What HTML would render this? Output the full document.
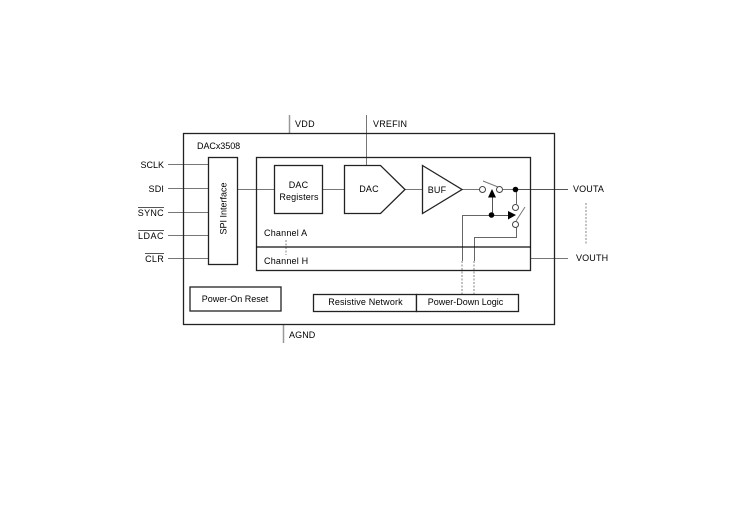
<!DOCTYPE html>
<html>
<head>
<meta charset="utf-8">
<style>
html,body{margin:0;padding:0;background:#fff;}
svg{display:block;}
text{font-family:"Liberation Sans",sans-serif;font-size:9px;fill:#000;letter-spacing:.15px;}
</style>
</head>
<body>
<svg width="736" height="505" viewBox="0 0 736 505" xmlns="http://www.w3.org/2000/svg">
<rect width="736" height="505" fill="#fff"/>
<!-- gray connectors -->
<g stroke="#777" stroke-width="1" fill="none">
<path d="M168 164.5H208M168 188.5H208M168 212.5H208M168 235.5H208M168 258.5H208"/>
<path d="M238 189.5H274M323 189.5H344M405 189.5H422M462 189.5H480M503 189.5H516"/>
<path d="M366.5 115V165"/>
<path d="M531 258.5H568"/>
<path d="M516 189.5H568" stroke="#555"/>
<path d="M516.5 190V204M516.5 227V237.5H474.5V261M462.5 261V215.5H492" stroke="#666"/>
<path d="M492.5 215V196" stroke="#555"/>
<path d="M492 215.5H508" stroke="#555"/>
<path d="M483 181L498 187M516 221L525 207" stroke="#777"/>
</g>
<path d="M289.5 115V133M283.5 324V343" stroke="#999" stroke-width="1.5" fill="none"/>
<!-- dashed -->
<g stroke="#999" stroke-width="1.2" stroke-dasharray="2 1.5" fill="none">
<path d="M462 261V294M474 261V294M286 240V255"/>
<path d="M586 203V245"/>
</g>
<!-- boxes -->
<g fill="none" stroke="#222" stroke-width="1.3">
<rect x="183.5" y="133.5" width="371" height="191"/>
<rect x="256.5" y="157.5" width="274" height="113"/>
<path d="M256 247H531" stroke="#111"/>
</g>
<g fill="#fff" stroke="#222" stroke-width="1.3">
<rect x="208.5" y="157.5" width="29" height="107"/>
<rect x="274.5" y="165.5" width="48" height="48"/>
<polygon points="344.5,165.5 380.5,165.5 405,189.5 380.5,213.5 344.5,213.5"/>
<polygon points="422.5,165.5 462,189.5 422.5,213.5"/>
<rect x="190" y="287" width="91" height="24"/>
<rect x="313.5" y="294.5" width="103" height="17"/>
<rect x="416.5" y="294.5" width="102" height="17"/>
</g>
<!-- switch nodes -->
<g fill="#fff" stroke="#444" stroke-width="1">
<circle cx="482.5" cy="189.5" r="3"/>
<circle cx="499.5" cy="189.5" r="3"/>
<circle cx="515.5" cy="207.5" r="3"/>
<circle cx="515.5" cy="224.5" r="3"/>
</g>
<g fill="#000">
<circle cx="515.5" cy="189.5" r="2.8"/>
<circle cx="491.5" cy="215" r="2.8"/>
<polygon points="492,189 488,197.5 496,197.5"/>
<polygon points="516,215 508,211 508,219.5"/>
</g>
<!-- overbars -->
<path d="M138 207.5H164M138 230.5H164M145 253.5H164" stroke="#555" stroke-width="1" fill="none"/>
<!-- labels -->
<text x="164" y="168" text-anchor="end" style="letter-spacing:0">SCLK</text>
<text x="164" y="192" text-anchor="end">SDI</text>
<text x="164" y="216" text-anchor="end" style="letter-spacing:.3px">SYNC</text>
<text x="164" y="239" text-anchor="end" style="letter-spacing:.5px">LDAC</text>
<text x="164" y="262" text-anchor="end" style="letter-spacing:.3px">CLR</text>
<text x="197" y="149" style="letter-spacing:-.05px">DACx3508</text>
<text x="295" y="127" style="letter-spacing:.3px">VDD</text>
<text x="373" y="127" style="letter-spacing:.2px">VREFIN</text>
<text x="289" y="338" style="letter-spacing:.1px">AGND</text>
<text x="573" y="192">VOUTA</text>
<text x="576" y="261">VOUTH</text>
<text x="298.5" y="188" text-anchor="middle">DAC</text>
<text x="299" y="200" text-anchor="middle">Registers</text>
<text x="369" y="192" text-anchor="middle">DAC</text>
<text x="437" y="193" text-anchor="middle">BUF</text>
<text x="264" y="236" style="letter-spacing:.2px">Channel A</text>
<text x="264" y="264" style="letter-spacing:.2px">Channel H</text>
<text x="235" y="302" text-anchor="middle" style="letter-spacing:0">Power-On Reset</text>
<text x="365.5" y="305" text-anchor="middle">Resistive Network</text>
<text x="465.5" y="305" text-anchor="middle" style="letter-spacing:0">Power-Down Logic</text>
<text transform="translate(226.5 208.5) rotate(-90)" text-anchor="middle" style="letter-spacing:0">SPI Interface</text>
</svg>
</body>
</html>
